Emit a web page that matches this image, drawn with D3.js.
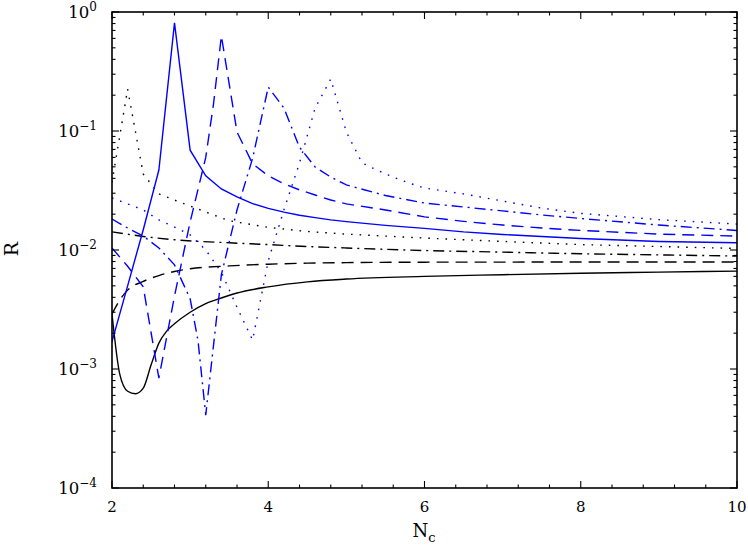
<!DOCTYPE html>
<html>
<head>
<meta charset="utf-8">
<script src="https://cdn.jsdelivr.net/npm/d3@7"></script>
<style>
  html, body { margin: 0; padding: 0; background: #fff; }
  svg { display: block; }
  text { font-family: "DejaVu Serif", serif; fill: #000; }
</style>
</head>
<body>
<svg id="chart" width="748" height="545"></svg>
<script>
// ---- data : [Nc, R] ----
const blackSolid = [[2.0,2.9e-3],[2.1,9.0e-4],[2.2,6.5e-4],[2.3,6.2e-4],[2.4,6.9e-4],[2.5,1.08e-3],[2.6,1.65e-3],[2.7,2.08e-3],[2.8,2.4e-3],[3.0,3.0e-3],[3.2,3.55e-3],[3.4,3.95e-3],[3.6,4.35e-3],[4.0,4.9e-3],[4.5,5.4e-3],[5.0,5.7e-3],[6.0,6.0e-3],[7.0,6.2e-3],[8.0,6.38e-3],[9.0,6.52e-3],[10,6.65e-3]];
const blackDashed = [[2.0,2.9e-3],[2.1,3.8e-3],[2.2,4.6e-3],[2.4,5.45e-3],[2.6,6.1e-3],[2.8,6.6e-3],[3.0,6.95e-3],[3.5,7.35e-3],[4.0,7.6e-3],[4.5,7.75e-3],[5.0,7.83e-3],[6.0,7.9e-3],[8.0,7.92e-3],[10,7.92e-3]];
const blackDashDot = [[2.0,0.0142],[2.4,0.0130],[2.8,0.0122],[3.5,0.0115],[4.0,0.0111],[4.5,0.0107],[5.0,0.0104],[6.0,0.0099],[7.0,0.0096],[8.0,0.0093],[9.0,0.0091],[10,0.0089]];
const blackDotted = [[2.0,0.037],[2.2,0.225],[2.4,0.0435],[2.6,0.0296],[2.8,0.0263],[3.0,0.0234],[3.5,0.0176],[4.0,0.0155],[4.5,0.0143],[5.0,0.0136],[6.0,0.0126],[7.0,0.0118],[8.0,0.0111],[9.0,0.0107],[10,0.0103]];
const blueSolid = [[2.0,1.7e-3],[2.2,5.0e-3],[2.4,0.0148],[2.6,0.047],[2.8,0.81],[3.0,0.069],[3.2,0.042],[3.4,0.0326],[3.6,0.0279],[3.8,0.0245],[4.0,0.0224],[4.2,0.0208],[4.4,0.0196],[4.6,0.0187],[4.8,0.0179],[5.0,0.0173],[5.5,0.0161],[6.0,0.0152],[6.5,0.0142],[7.0,0.0135],[7.5,0.0130],[8.0,0.0125],[9.0,0.0118],[10,0.0115]];
const blueDashed = [[2.0,0.0104],[2.2,7.3e-3],[2.4,4.9e-3],[2.6,8.4e-4],[2.8,4.1e-3],[3.0,0.0172],[3.2,0.06],[3.3,0.17],[3.4,0.63],[3.6,0.098],[3.8,0.053],[4.0,0.042],[4.2,0.036],[4.4,0.032],[4.6,0.029],[4.8,0.0263],[5.0,0.0244],[5.5,0.0217],[6.0,0.0190],[6.5,0.0174],[7.0,0.0162],[7.5,0.0153],[8.0,0.0146],[9.0,0.0136],[10,0.0131]];
const blueDashDot = [[2.0,0.0182],[2.2,0.0153],[2.4,0.0131],[2.6,0.0104],[2.8,7.5e-3],[3.0,3.9e-3],[3.1,1.75e-3],[3.2,4.1e-4],[3.4,6.2e-3],[3.6,0.0217],[3.8,0.059],[4.0,0.234],[4.2,0.156],[4.4,0.073],[4.6,0.0498],[4.8,0.041],[5.0,0.0352],[5.5,0.0287],[6.0,0.0248],[6.5,0.0230],[7.0,0.0213],[7.5,0.0197],[8.0,0.0184],[9.0,0.0162],[10,0.0146]];
const blueDotted = [[2.0,0.0274],[2.2,0.0244],[2.4,0.0217],[2.6,0.0179],[2.8,0.0156],[3.0,0.0134],[3.2,0.0100],[3.4,6.5e-3],[3.6,3.3e-3],[3.8,1.75e-3],[4.0,8.1e-3],[4.2,0.0217],[4.4,0.0538],[4.6,0.156],[4.8,0.273],[5.0,0.098],[5.2,0.054],[5.4,0.0466],[5.6,0.041],[5.8,0.0365],[6.0,0.0332],[6.5,0.0296],[7.0,0.0258],[7.5,0.0225],[8.0,0.0203],[9.0,0.0180],[10,0.0165]];

const xMajorTicks = [2, 4, 6, 8, 10];
const yDecades = [-4, -3, -2, -1, 0];

const series = [
  { data: blackSolid,   color: "#000", dash: null,        smooth: true },
  { data: blackDashed,  color: "#000", dash: "12,7",      smooth: true },
  { data: blackDashDot, color: "#000", dash: "11,5,2,5",  smooth: true },
  { data: blackDotted,  color: "#000", dash: "1.6,7",     smooth: false },
  { data: blueSolid,    color: "#0000ff", dash: null,       smooth: false },
  { data: blueDashed,   color: "#0000ff", dash: "12,7",     smooth: false },
  { data: blueDashDot,  color: "#0000ff", dash: "11,5,2,5", smooth: false },
  { data: blueDotted,   color: "#0000ff", dash: "1.6,7",    smooth: false }
];

// ---- layout ----
const L = 112, R = 737, T = 12, B = 488;
const svg = d3.select("#chart");
const x = d3.scaleLinear().domain([2, 10]).range([L, R]);
const y = d3.scaleLog().domain([1e-4, 1]).range([B, T]);

svg.append("defs").append("clipPath").attr("id", "clip")
  .append("rect").attr("x", L).attr("y", T).attr("width", R - L).attr("height", B - T);

// curves
const g = svg.append("g").attr("clip-path", "url(#clip)");
series.forEach(s => {
  const line = d3.line().x(d => x(d[0])).y(d => y(d[1]))
    .curve(s.smooth ? d3.curveMonotoneX : d3.curveLinear);
  g.append("path")
    .attr("d", line(s.data))
    .attr("fill", "none")
    .attr("stroke", s.color)
    .attr("stroke-width", 1.4)
    .attr("stroke-dasharray", s.dash)
    .attr("stroke-linejoin", "miter");
});

// ticks
const axisG = svg.append("g").attr("stroke", "#000").attr("stroke-width", 1.1);
const majLen = 7, minLen = 3.5;
const xTicks = d3.range(0, 21).map(i => 2 + i * 0.4);
xTicks.forEach(v => {
  const isMaj = xMajorTicks.some(m => Math.abs(m - v) < 1e-6);
  const len = isMaj ? majLen : minLen;
  const px = x(v);
  axisG.append("line").attr("x1", px).attr("x2", px).attr("y1", B).attr("y2", B - len);
  axisG.append("line").attr("x1", px).attr("x2", px).attr("y1", T).attr("y2", T + len);
});
yDecades.forEach(e => {
  const v = Math.pow(10, e);
  [L, R].forEach(side => {
    const dir = side === L ? 1 : -1;
    axisG.append("line").attr("x1", side).attr("x2", side + dir * majLen)
      .attr("y1", y(v)).attr("y2", y(v));
  });
  if (e < 0) {
    for (let k = 2; k <= 9; k++) {
      const mv = k * v;
      [L, R].forEach(side => {
        const dir = side === L ? 1 : -1;
        axisG.append("line").attr("x1", side).attr("x2", side + dir * minLen)
          .attr("y1", y(mv)).attr("y2", y(mv));
      });
    }
  }
});

// frame
svg.append("rect").attr("x", L).attr("y", T).attr("width", R - L).attr("height", B - T)
  .attr("fill", "none").attr("stroke", "#000").attr("stroke-width", 1.6);

// x tick labels
xMajorTicks.forEach(v => {
  svg.append("text").attr("x", x(v)).attr("y", 512)
    .attr("text-anchor", "middle").attr("font-size", 15).text(v);
});

// y tick labels 10^e
yDecades.forEach(e => {
  const t = svg.append("text").attr("x", 97).attr("y", y(Math.pow(10, e)) + 6)
    .attr("text-anchor", "end").attr("font-size", 16.5);
  t.append("tspan").text("10");
  t.append("tspan").attr("dy", -7).attr("font-size", 12)
    .text(e === 0 ? "0" : "\u2212" + Math.abs(e));
});

// axis titles
const xt = svg.append("text").attr("x", 424).attr("y", 537)
  .attr("text-anchor", "middle").attr("font-size", 18);
xt.append("tspan").text("N");
xt.append("tspan").attr("dy", 5).attr("font-size", 13).text("c");

svg.append("text").attr("transform", "translate(18,249) rotate(-90)")
  .attr("text-anchor", "middle").attr("font-size", 19).text("R");
</script>
</body>
</html>
